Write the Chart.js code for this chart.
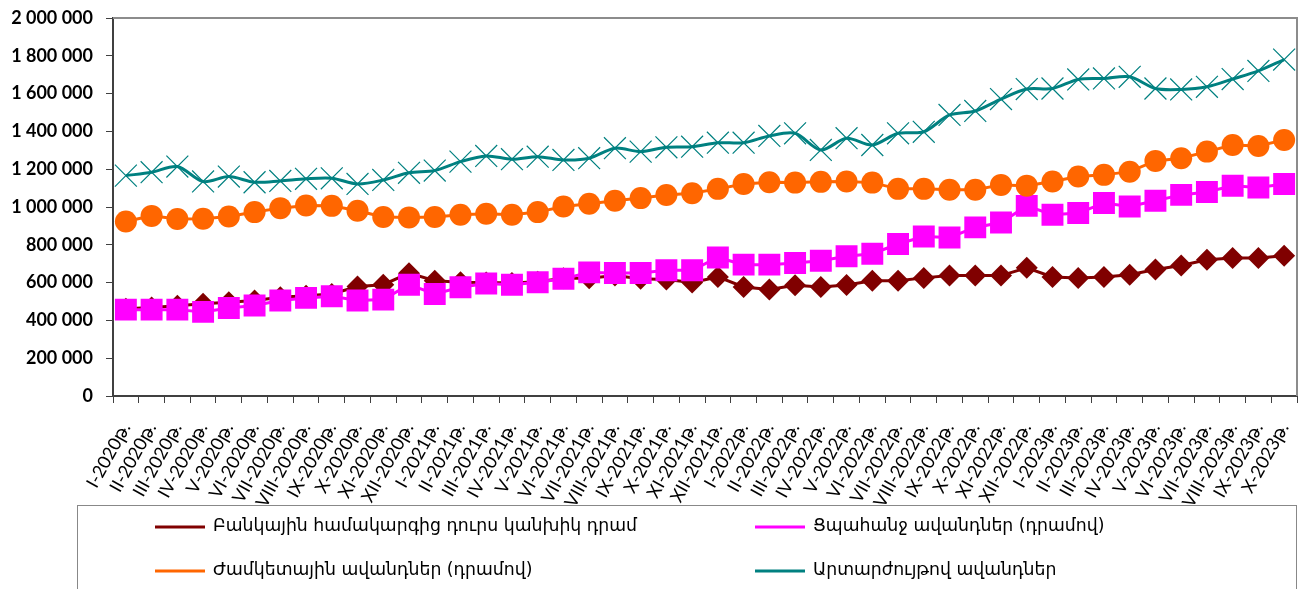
<title>Dram and deposits</title>
<script src="https://cdn.jsdelivr.net/npm/chart.js@4.4.0/dist/chart.umd.min.js"></script>
<style>body{margin:0;background:#fff}</style>
<canvas id="myChart" width="1300" height="589"></canvas>
<script>
var months = ['I','II','III','IV','V','VI','VII','VIII','IX','X','XI','XII'];
var labels = [];
[2020,2021,2022,2023].forEach(function(y){
  months.forEach(function(m,i){ if(y<2023 || i<10) labels.push(m+'-'+y+'թ.'); });
});

var cashOutside = [462000,468000,478000,488000,496000,505000,522000,531000,540000,579000,589000,650000,
  610000,602000,600000,598000,605000,623000,623000,638000,621000,617000,600000,630000,
  577000,563000,586000,577000,587000,610000,610000,625000,637000,637000,637000,678000,
  630000,625000,630000,642000,669000,691000,721000,730000,730000,742000];
var demandDep = [457000,457000,457000,445000,466000,479000,505000,519000,528000,505000,510000,589000,
  540000,575000,595000,589000,602000,620000,654000,651000,651000,665000,665000,733000,
  695000,695000,704000,716000,739000,753000,804000,844000,839000,892000,918000,1006000,
  959000,968000,1021000,1003000,1033000,1064000,1079000,1112000,1103000,1122000];
var timeDep = [923000,953000,936000,938000,950000,973000,994000,1008000,1006000,980000,947000,945000,
  947000,959000,964000,959000,973000,1003000,1017000,1033000,1047000,1064000,1073000,1096000,
  1122000,1131000,1129000,1133000,1135000,1129000,1096000,1096000,1091000,1091000,1117000,1113000,
  1135000,1161000,1170000,1187000,1244000,1258000,1293000,1328000,1323000,1355000];
var fxDep = [1166000,1184000,1214000,1135000,1161000,1131000,1138000,1149000,1152000,1122000,1143000,1181000,
  1193000,1240000,1270000,1253000,1266000,1249000,1258000,1311000,1293000,1316000,1319000,1340000,
  1340000,1376000,1390000,1302000,1364000,1328000,1390000,1398000,1487000,1508000,1571000,1624000,
  1627000,1675000,1680000,1689000,1627000,1622000,1636000,1677000,1720000,1780000];
var yTicks = [0,200000,400000,600000,800000,1000000,1200000,1400000,1600000,1800000,2000000];

var seriesNames = ['Բանկային համակարգից դուրս կանխիկ դրամ','Ցպահանջ ավանդներ (դրամով)',
  'Ժամկետային ավանդներ (դրամով)','Արտարժույթով ավանդներ'];

function fmt(v){ return String(v).replace(/\B(?=(\d{3})+(?!\d))/g,' '); }

var legendBox = {
  id:'legendBox',
  afterDraw:function(chart){
    var ctx = chart.ctx;
    ctx.save();
    ctx.strokeStyle = '#888'; ctx.lineWidth = 1;
    ctx.strokeRect(77.5,505.5,1219,100);
    var pos = [[155,527],[755,527],[155,571],[755,571]];
    chart.data.datasets.forEach(function(ds,i){
      var x = pos[i][0], y = pos[i][1];
      ctx.strokeStyle = ds.borderColor; ctx.lineWidth = 3;
      ctx.beginPath(); ctx.moveTo(x,y); ctx.lineTo(x+50,y); ctx.stroke();
      ctx.fillStyle = ds.pointBackgroundColor; ctx.strokeStyle = ds.pointBorderColor;
      ctx.lineWidth = ds.pointStyle=='crossRot' ? 1 : 0;
      Chart.helpers.drawPoint(ctx,{pointStyle:ds.pointStyle,rotation:0,borderWidth:ctx.lineWidth},ds.legendR,x+25,y);
      ctx.fillStyle = '#000'; ctx.font = '17.3px "DejaVu Sans"';
      ctx.textBaseline = 'middle'; ctx.textAlign = 'left';
      ctx.fillText(seriesNames[i],x+58,y);
    });
    ctx.restore();
  }
};
var plotFrame = {
  id:'plotFrame',
  beforeDatasetsDraw:function(chart){
    var a = chart.chartArea, ctx = chart.ctx;
    ctx.save(); ctx.strokeStyle = '#8c8c8c'; ctx.lineWidth = 2;
    ctx.beginPath(); ctx.moveTo(a.left,a.top); ctx.lineTo(a.right,a.top); ctx.lineTo(a.right,a.bottom); ctx.stroke();
    ctx.restore();
  }
};

new Chart(document.getElementById('myChart'),{
  type:'line',
  data:{labels:labels,datasets:[
    {label:seriesNames[0],data:cashOutside,borderColor:'#800000',backgroundColor:'#800000',
     pointBackgroundColor:'#800000',pointBorderColor:'#800000',pointStyle:'rectRot',pointRadius:11,legendR:6,
     borderWidth:3,pointBorderWidth:0,order:4},
    {label:seriesNames[1],data:demandDep,borderColor:'#ff00ff',backgroundColor:'#ff00ff',
     pointBackgroundColor:'#ff00ff',pointBorderColor:'#ff00ff',pointStyle:'rect',pointRadius:15.5,legendR:9,
     borderWidth:3,pointBorderWidth:0,order:3},
    {label:seriesNames[2],data:timeDep,borderColor:'#ff6600',backgroundColor:'#ff6600',
     pointBackgroundColor:'#ff6600',pointBorderColor:'#ff6600',pointStyle:'circle',pointRadius:11,legendR:6,
     borderWidth:3,pointBorderWidth:0,order:2},
    {label:seriesNames[3],data:fxDep,borderColor:'#008080',backgroundColor:'#008080',
     pointBackgroundColor:'#008080',pointBorderColor:'#008080',pointStyle:'crossRot',pointRadius:15.5,legendR:9,
     borderWidth:3,pointBorderWidth:1.2,tension:0.3,order:1}
  ]},
  options:{
    responsive:false,animation:false,
    layout:{autoPadding:false,padding:{top:18,right:3,bottom:84,left:0}},
    plugins:{legend:{display:false},tooltip:{enabled:false}},
    scales:{
      x:{
        offset:true,
        afterFit:function(s){ s.height = 109; s.paddingLeft = 0; s.paddingRight = 0; },
        grid:{offset:true,drawOnChartArea:false,drawTicks:true,tickLength:7,color:'#404040'},
        border:{color:'#404040',width:2},
        ticks:{color:'#000',autoSkip:false,minRotation:61,maxRotation:61,padding:16,
          font:{family:'Lato, "DejaVu Sans"',size:18}}
      },
      y:{
        min:0,max:2000000,
        afterFit:function(s){ s.width = 113; s.paddingTop = 0; s.paddingBottom = 0; },
        afterBuildTicks:function(s){ s.ticks = yTicks.map(function(v){return {value:v};}); },
        grid:{drawOnChartArea:false,drawTicks:true,tickLength:7,color:'#404040'},
        border:{color:'#404040',width:2},
        ticks:{color:'#000',padding:13,callback:function(v){return fmt(v);},
          font:{family:'Lato',size:18,weight:'bold'}}
      }
    }
  },
  plugins:[plotFrame,legendBox]
});
</script>
